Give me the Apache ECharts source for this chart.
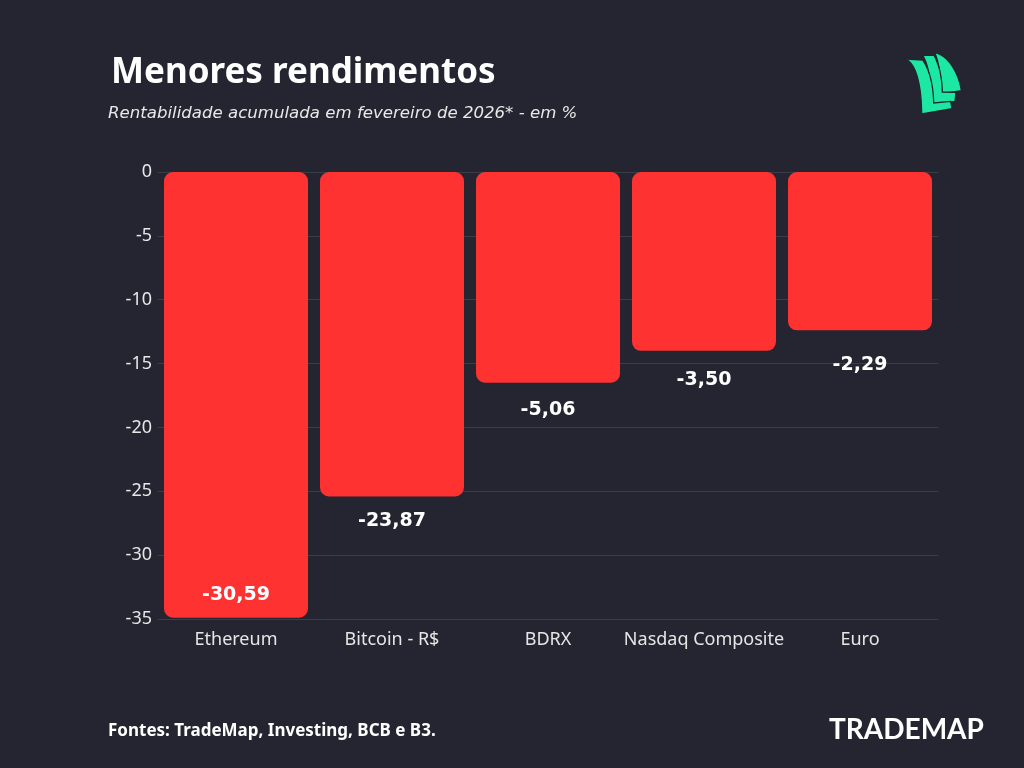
<!DOCTYPE html>
<html>
<head>
<meta charset="utf-8">
<script src="https://cdn.jsdelivr.net/npm/echarts@6/dist/echarts.min.js"></script>
<style>
html,body{margin:0;padding:0;background:#242530;}
#c{width:1024px;height:768px;}
</style>
</head>
<body>
<div id="c"></div>
<script>
const categories = ['Ethereum', 'Bitcoin - R$', 'BDRX', 'Nasdaq Composite', 'Euro'];
// bar extents as drawn in the picture (axis units)
const barValues = [-34.9, -25.4, -16.5, -14.0, -12.4];
// value labels printed on the picture
const valueLabels = ['-30,59', '-23,87', '-5,06', '-3,50', '-2,29'];
const yTicks = [0, -5, -10, -15, -20, -25, -30, -35];

const BG = '#242530';
const RED = '#ff3232';
const FONT = '"Noto Sans", "Open Sans", sans-serif';
const WIDE = '"DejaVu Sans", "Noto Sans", sans-serif';

// label placement per bar (style, not data)
const labelPlacement = [
  {position: 'insideBottom', distance: 13},
  {position: 'bottom', distance: 15},
  {position: 'bottom', distance: 18},
  {position: 'bottom', distance: 20},
  {position: 'bottom', distance: 25}
];

const chart = echarts.init(document.getElementById('c'), null, {renderer: 'canvas'});

function cubic(p0, p1, p2, p3, n) {
  const pts = [];
  for (let i = 1; i <= n; i++) {
    const t = i / n, u = 1 - t;
    pts.push([
      u*u*u*p0[0] + 3*u*u*t*p1[0] + 3*u*t*t*p2[0] + t*t*t*p3[0],
      u*u*u*p0[1] + 3*u*u*t*p1[1] + 3*u*t*t*p2[1] + t*t*t*p3[1]
    ]);
  }
  return pts;
}
// logo drawn in a 3x local frame anchored at (900,48)
function toPx(pts) { return pts.map(p => [900 + p[0] / 3, 48 + p[1] / 3]); }

const backBlade = [[104, 14]]
  .concat(cubic([104, 14], [142, 20], [176, 72], [184, 128], 20))
  .concat([[125, 138]])
  .concat(cubic([125, 138], [124, 90], [116, 40], [104, 14], 20));

const midBlade = [[68, 22], [102, 22]]
  .concat(cubic([102, 22], [120, 55], [126, 95], [127, 132], 20))
  .concat([[168, 133], [165, 160], [90, 174]])
  .concat(cubic([90, 174], [95, 120], [88, 52], [68, 22], 20));

const frontBlade = [[18, 33], [68, 36]]
  .concat(cubic([68, 36], [92, 70], [100, 120], [101, 165], 20))
  .concat([[152, 160], [156, 182], [65, 198]])
  .concat(cubic([65, 198], [64, 120], [52, 52], [18, 33], 20));

const logo = [backBlade, midBlade, frontBlade].map(b => ({
  type: 'polygon',
  shape: {points: toPx(b)},
  style: {fill: '#1de8a3', stroke: BG, lineWidth: 1.3}
}));

chart.setOption({
  backgroundColor: BG,
  animation: false,
  grid: {left: 158, right: 86, top: 172, bottom: 149},
  xAxis: {
    type: 'category',
    data: categories,
    position: 'bottom',
    axisLine: {show: false, onZero: false},
    axisTick: {show: false},
    axisLabel: {color: '#e6e6e6', fontSize: 18, fontFamily: FONT, margin: 12, interval: 0}
  },
  yAxis: {
    type: 'value',
    min: -35,
    max: 0,
    interval: 5,
    axisLine: {show: false},
    axisTick: {show: false},
    axisLabel: {
      color: '#e6e6e6', fontSize: 18, fontFamily: FONT, margin: 6,
      formatter: v => (yTicks.indexOf(v) >= 0 ? String(v) : '')
    },
    splitLine: {lineStyle: {color: '#3c3d48', width: 1}}
  },
  series: [{
    type: 'bar',
    barWidth: 144,
    data: barValues.map((v, i) => ({
      value: v,
      label: {
        show: true,
        position: labelPlacement[i].position,
        distance: labelPlacement[i].distance,
        formatter: () => valueLabels[i],
        color: '#ffffff',
        fontSize: 19,
        fontWeight: 'bold',
        fontFamily: WIDE
      }
    })),
    itemStyle: {color: RED, borderRadius: 9}
  }],
  graphic: [
    {
      type: 'text', left: 111, top: 56,
      style: {text: 'Menores rendimentos', fill: '#ffffff', font: 'bold 35px ' + FONT}
    },
    {
      type: 'text', left: 108, top: 105,
      style: {text: 'Rentabilidade acumulada em fevereiro de 2026* - em %', fill: '#e8e8e8', font: 'oblique 16.6px ' + WIDE}
    },
    {
      type: 'text', left: 108, top: 723,
      style: {text: 'Fontes: TradeMap, Investing, BCB e B3.', fill: '#ffffff', font: 'bold 17px ' + FONT}
    },
    {
      type: 'text', left: 829, top: 716,
      style: {text: 'TRADEMAP', fill: '#ffffff', font: 'bold 28px Lato, sans-serif'}
    }
  ].concat(logo)
});
</script>
</body>
</html>
